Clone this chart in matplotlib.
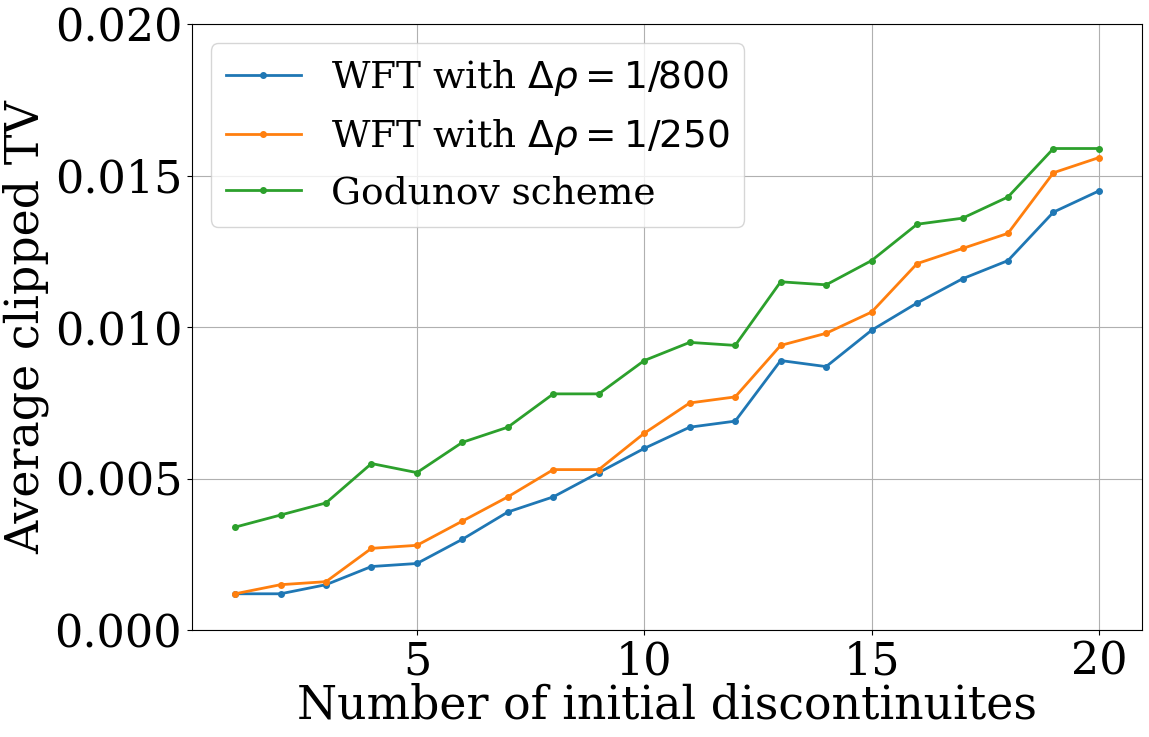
import numpy as np
import matplotlib.pyplot as plt

plt.rcParams['font.family'] = 'DejaVu Serif'

# number of initial discontinuities
n_disc = list(range(1, 21))

wft_800 = [0.0012, 0.0012, 0.0015, 0.0021, 0.0022, 0.0030, 0.0039, 0.0044, 0.0052, 0.0060,
           0.0067, 0.0069, 0.0089, 0.0087, 0.0099, 0.0108, 0.0116, 0.0122, 0.0138, 0.0145]
wft_250 = [0.0012, 0.0015, 0.0016, 0.0027, 0.0028, 0.0036, 0.0044, 0.0053, 0.0053, 0.0065,
           0.0075, 0.0077, 0.0094, 0.0098, 0.0105, 0.0121, 0.0126, 0.0131, 0.0151, 0.0156]
godunov = [0.0034, 0.0038, 0.0042, 0.0055, 0.0052, 0.0062, 0.0067, 0.0078, 0.0078, 0.0089,
           0.0095, 0.0094, 0.0115, 0.0114, 0.0122, 0.0134, 0.0136, 0.0143, 0.0159, 0.0159]

fig = plt.figure(figsize=(11.49, 7.37), dpi=100)
ax = fig.add_subplot(111)
fig.subplots_adjust(left=0.167, right=0.994, top=0.967, bottom=0.145)

ax.plot(n_disc, wft_800, marker='o', markersize=4, lw=2, label=r'WFT with $\Delta\rho = 1/800$')
ax.plot(n_disc, wft_250, marker='o', markersize=4, lw=2, label=r'WFT with $\Delta\rho = 1/250$')
ax.plot(n_disc, godunov, marker='o', markersize=4, lw=2, label='Godunov scheme')

ax.set_ylim(0, 0.020)
ax.set_yticks([0.0, 0.005, 0.010, 0.015, 0.020])
ax.set_yticklabels(['0.000', '0.005', '0.010', '0.015', '0.020'])
ax.set_xticks([5, 10, 15, 20])
ax.tick_params(labelsize=32)
ax.grid(True)
ax.set_xlabel('Number of initial discontinuites', fontsize=33, labelpad=0)
ax.set_ylabel('Average clipped TV', fontsize=33)
ax.legend(loc='upper left', fontsize=27)

fig.savefig('out.png', dpi=100)
